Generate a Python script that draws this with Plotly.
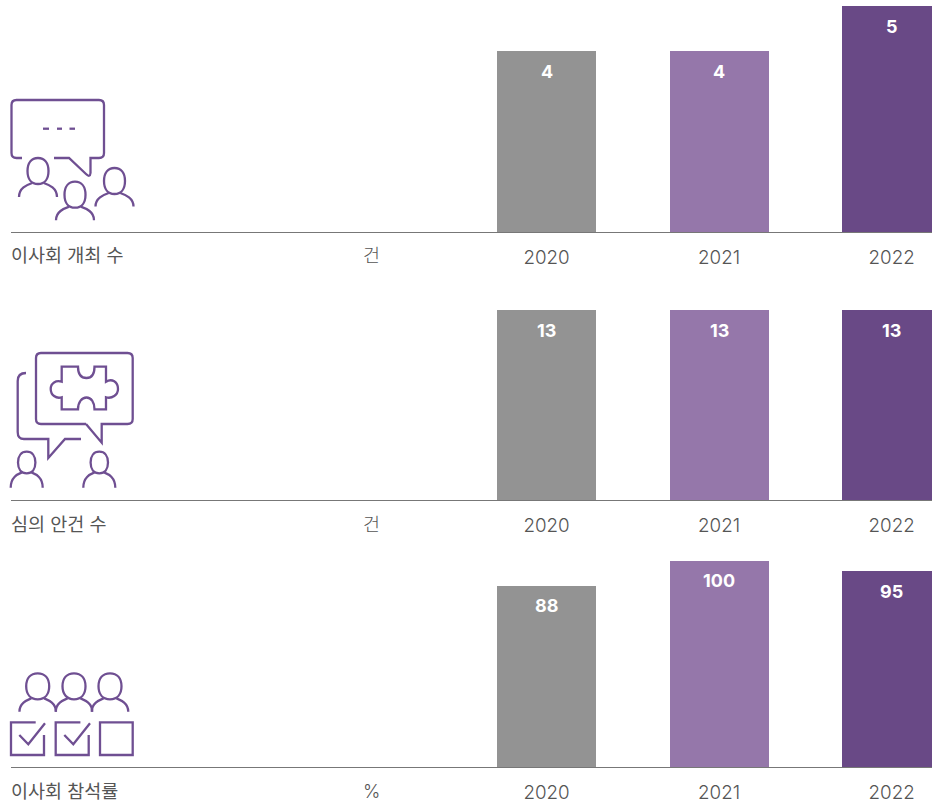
import re
import plotly.graph_objects as go

W, H = 932, 805
years = ["2020", "2021", "2022"]
meetings = [4, 4, 5]
agenda = [13, 13, 13]
attendance = [88, 100, 95]
panel_titles = ["이사회 개최 수", "심의 안건 수", "이사회 참석률"]
panel_units = ["건", "건", "%"]
panel_values = [meetings, agenda, attendance]
bar_colors = ["#939393", "#9577AA", "#694986"]
ICON = "#6F4F92"
TEXT = "#555555"
FONT = "Inter, 'Noto Sans CJK KR', sans-serif"

# layout: baseline px, top px, axis top value
panels = [(232.0, 0, 5.133), (500.4, 290, 14.396), (767.4, 540, 110.12)]
x_range = [-3.104, 2.234]
x_domain = [11 / W, 1]
bar_width = 99 / 172.5


def to_paper(path):
    toks = re.findall(r"[MLCQZ]|-?\d+\.?\d*", path)
    out, is_x = [], True
    for t in toks:
        if t in "MLCQZ":
            out.append(t)
            is_x = True
        else:
            v = float(t)
            out.append(f"{v / W:.5f}" if is_x else f"{1 - v / H:.5f}")
            is_x = not is_x
    res = ""
    i = 0
    while i < len(out):
        t = out[i]
        if t in "MLCQZ":
            res += t
            i += 1
        else:
            res += f"{out[i]},{out[i + 1]} "
            i += 2
    return res.strip()


def person(cx, top, hw, hh, sw, total):
    bottom = top + total
    neck = top + hh
    a, b = hw / 2, hh / 2
    my = top + b
    kx, ky = a * 0.62, b * 0.62
    head = (f"M{cx} {top} C{cx + kx} {top} {cx + a} {my - ky} {cx + a} {my} "
            f"C{cx + a} {my + ky} {cx + kx} {neck} {cx} {neck} "
            f"C{cx - kx} {neck} {cx - a} {my + ky} {cx - a} {my} "
            f"C{cx - a} {my - ky} {cx - kx} {top} {cx} {top} Z")
    s = sw / 2
    shoulders = (f"M{cx - s} {bottom} C{cx - s} {neck + 4} {cx - s * 0.6} {neck + 1} {cx - a * 0.55} {neck - 1} "
                 f"M{cx + s} {bottom} C{cx + s} {neck + 4} {cx + s * 0.6} {neck + 1} {cx + a * 0.55} {neck - 1}")
    return [head, shoulders]


paths = []
# Icon 1
paths.append("M22 158 L16.5 158 Q11.5 158 11.5 153 L11.5 105 Q11.5 100 16.5 100 L99 100 Q104 100 104 105 "
             "L104 153 Q104 158 99 158 L90.5 158 L90.5 173 Q90 178 86 174 L69 158 L54 158")
paths += ["M43 128.7 L49 128.7", "M57 128.7 L62 128.7", "M69.5 128.7 L75 128.7"]
paths += person(38, 158, 21, 26, 38, 39)
paths += person(75, 181.7, 21, 26, 38, 38.5)
paths += person(114.5, 168, 21, 26, 38, 38.5)
# Icon 2
paths.append("M86 424 L41 424 Q36 424 36 419 L36 358 Q36 353 41 353 L127.5 353 Q132.7 353 132.7 358 "
             "L132.7 419 Q132.7 424 127.5 424 L101.7 424 L101.7 442.7 L86 424")
paths.append("M26 373 Q17.7 373 17.7 381 L17.7 432 Q17.7 439 24 439 L48.3 439 L48.3 458 L65 439 L81 439")
paths.append("M61.7 366.7 L78 366.7 C78 375 82 378 86.5 378 C91 378 94.5 375 94.5 366.7 L106 366.7 L106 381.7 "
             "C112 378 118 382 118 389 C118 395 112 399 106 397.3 L106 409.3 L94.5 409.3 C94.5 402 91 397.5 86.5 397.5 "
             "C82 397.5 78 402 78 409.3 L61.7 409.3 L61.7 397.3 C56 399 50.7 395 50.7 389 C50.7 383 56 380 61.7 381.7 Z")
paths += person(26.7, 451.7, 17.4, 21.7, 32, 36)
paths += person(99.3, 451.7, 17.4, 21.7, 32, 36)
# Icon 3
for cx in (37.7, 74, 110):
    paths += person(cx, 673.3, 23, 26, 36.5, 38.4)
for dx, dc in ((0, 0), (44.7, 45)):
    paths.append(f"M{35.7 + dx} 722.3 L{11 + dx} 722.3 L{11 + dx} 755 L{44 + dx} 755 L{44 + dx} 735")
    paths.append(f"M{19.3 + dc} 735 L{28.3 + dc} 744.3 L{45 + dc} 723.3")
paths.append("M100 722.3 L132.7 722.3 L132.7 755 L100 755 Z")

shapes = [dict(type="path", xref="paper", yref="paper", path=to_paper(p),
               line=dict(color=ICON, width=2.3), fillcolor="rgba(0,0,0,0)", layer="above")
          for p in paths]

fig = go.Figure()
annotations = []
for i, (vals, title, unit, (base, top, ymax)) in enumerate(zip(panel_values, panel_titles, panel_units, panels)):
    n = "" if i == 0 else str(i + 1)
    fig.add_trace(go.Bar(x=years, y=vals, width=bar_width, marker=dict(color=bar_colors, line_width=0),
                         xaxis=f"x{n}", yaxis=f"y{n}", showlegend=False, hoverinfo="x+y"))
    fig.update_layout({
        f"xaxis{n}": dict(domain=x_domain, range=x_range, type="category", showline=True, linecolor="#777777",
                          linewidth=1, showgrid=False, zeroline=False, ticks="",
                          tickfont=dict(family=FONT, size=18.8, color=TEXT, weight=300),
                          ticklabelstandoff=8, anchor=f"y{n}", fixedrange=True),
        f"yaxis{n}": dict(domain=[1 - base / H, 1 - top / H], range=[0, ymax], visible=False,
                          anchor=f"x{n}", fixedrange=True),
    })
    for k, v in enumerate(vals):
        annotations.append(dict(x=k, y=v, xref=f"x{n}", yref=f"y{n}", text=str(v), showarrow=False,
                                yanchor="middle", yshift=-20,
                                font=dict(family=FONT, size=18, color="white", weight=700)))
    annotations.append(dict(x=10 / W, y=1 - (base + 23.5) / H, xref="paper", yref="paper", text=title,
                            showarrow=False, xanchor="left", yanchor="middle", xshift=-1,
                            font=dict(family=FONT, size=18.5, color=TEXT, weight=400)))
    annotations.append(dict(x=371 / W, y=1 - (base + 23.5) / H, xref="paper", yref="paper", text=unit,
                            showarrow=False, xanchor="center", yanchor="middle",
                            font=dict(family=FONT, size=18.5, color=TEXT, weight=300)))

fig.update_layout(width=W, height=H, margin=dict(l=0, r=0, t=0, b=0), autosize=False,
                  paper_bgcolor="white", plot_bgcolor="white", shapes=shapes, annotations=annotations,
                  bargap=0)
fig.write_html("out.html", config=dict(displayModeBar=False),
               post_script="document.body.style.margin='0';")
